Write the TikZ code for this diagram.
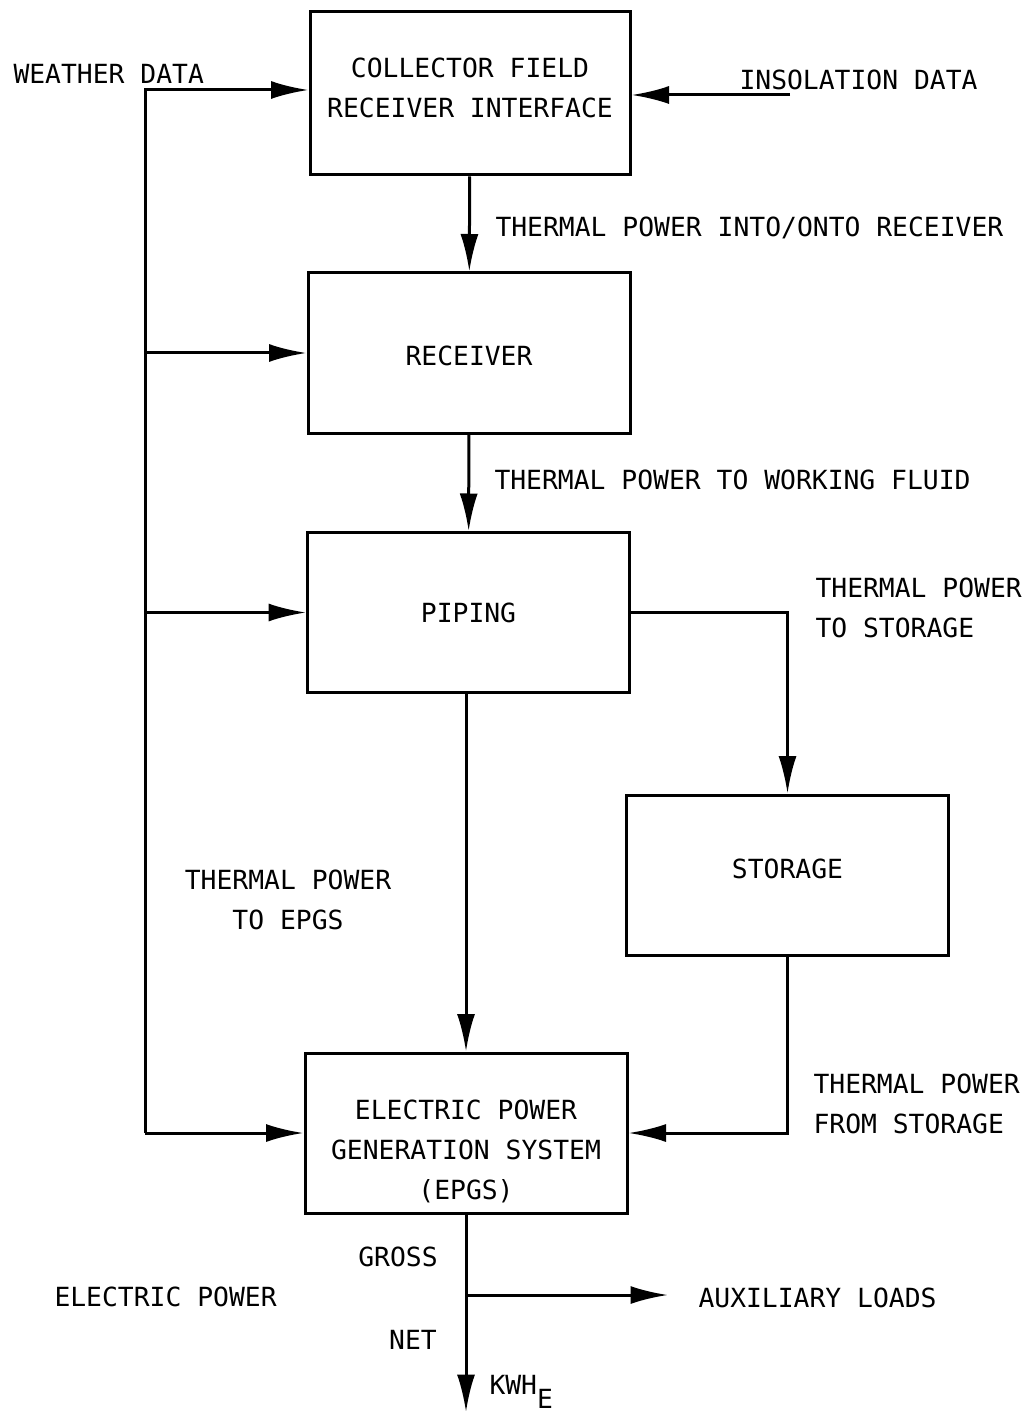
\documentclass[tikz,border=0pt]{standalone}
\usepackage{fontspec}
\setmonofont{DejaVu Sans Mono}
\usetikzlibrary{arrows.meta,positioning,calc}

\begin{document}
\begin{tikzpicture}[x=0.2mm,y=-0.2mm,>={Latex[length=7.5mm,width=3.6mm]},
   line width=0.6mm,
   font=\ttfamily\fontsize{15}{22.8}\selectfont,
   blk/.style={draw,line width=0.6mm,align=center,minimum width=64.4mm,minimum height=32mm,inner sep=2pt},
   tpos/.style 2 args={text height=#1,text depth=#2,inner ysep=0pt},
   lbl/.style={align=left,anchor=west,inner sep=0pt},
   clbl/.style={align=center,inner sep=0pt}]

  \useasboundingbox (0,0) rectangle (1027,1414);

  % ---- main blocks ----
  \node[blk,minimum width=64mm,tpos={21.1mm}{11.5mm}] (cfri) at (470,93.5) {COLLECTOR FIELD\\RECEIVER INTERFACE};
  \node[blk,tpos={18.5mm}{13.5mm}] (rcvr) at (469,353) {RECEIVER};
  \node[blk] (pipe) at (468.5,612.5) {PIPING};
  \node[blk,tpos={16.7mm}{15.3mm}] (stor) at (787.5,875) {STORAGE};
  \node[blk,tpos={29.3mm}{2.7mm}] (epgs) at (466,1133) {ELECTRIC POWER\\GENERATION SYSTEM\\(EPGS)};

  % ---- free ends ----
  \coordinate (wtop) at (145,90);
  \coordinate (ins) at (790,95);
  \coordinate (aux) at (668,1295);
  \coordinate (kwh) at (463,1412);

  % ---- labels ----
  \node[lbl] (wdat) at (12,74) {WEATHER DATA};
  \node[lbl] (idat) at (738,80) {INSOLATION DATA};
  \node[lbl] (tp1) at (494,228) {THERMAL POWER INTO/ONTO RECEIVER};
  \node[lbl] (tp2) at (493,480) {THERMAL POWER TO WORKING FLUID};
  \node[lbl] (tp3) at (814,608) {THERMAL POWER\\TO STORAGE};
  \node[clbl] (tp4) at (288,900) {THERMAL POWER\\TO EPGS};
  \node[lbl] (tp5) at (812,1104) {THERMAL POWER\\FROM STORAGE};
  \node[clbl] (gros) at (398,1257) {GROSS};
  \node[lbl] (elec) at (53,1297) {ELECTRIC POWER};
  \node[lbl] (auxl) at (697,1298) {AUXILIARY LOADS};
  \node[clbl] (net) at (413,1340) {NET};
  \node[lbl] (kwhe) at (488,1392) {KWH\raisebox{-8pt}{E}};

  % ---- weather data bus ----
  \draw[->] (wtop |- epgs.west) -- (wtop) -- (wtop -| cfri.west);
  \foreach \n in {rcvr,pipe,epgs}{\draw[->] (wtop |- \n.west) -- (\n.west);}

  % ---- power flow ----
  \draw[->] (ins) -- (ins -| cfri.east);
  \draw[->] (cfri) -- (rcvr);
  \draw[->] (rcvr) -- (pipe);
  \draw[->] (pipe.south -| epgs.north) -- (epgs.north);
  \draw[->] (pipe.east) -| (stor.north);
  \draw[->] (stor.south) |- (epgs.east);
  \draw[->] (epgs.south) -- (epgs.south |- kwh);
  \draw[->] (epgs.south |- aux) -- (aux);
\end{tikzpicture}
\end{document}
